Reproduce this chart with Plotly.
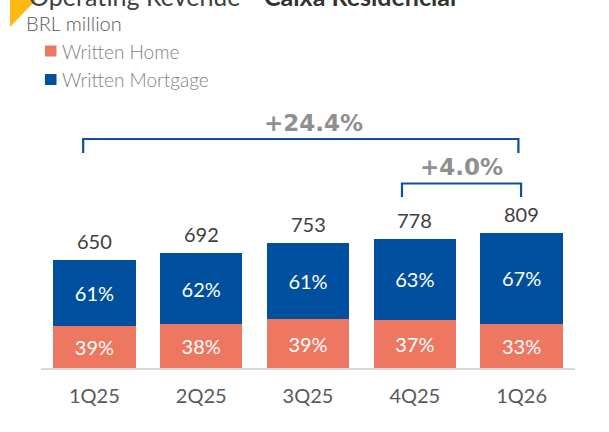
import plotly.graph_objects as go

# Quarterly operating revenue (BRL million) and product mix
quarters = ["1Q25", "2Q25", "3Q25", "4Q25", "1Q26"]
totals = [650, 692, 753, 778, 809]
home_pct = [39, 38, 39, 37, 33]
mortgage_pct = [61, 62, 61, 63, 67]

growth_yoy = "+24.4%"
growth_qoq = "+4.0%"

BLUE = "#00509F"
ORANGE = "#EE7762"
YELLOW = "#FDB913"
FONT = "Lato"

W, H = 609, 432
L, R, T, B = 41, 34, 0, 64
plot_h = H - T - B
plot_w = W - L - R
y_max = 2211


def py(p):
    """pixel row -> paper y"""
    return (H - B - p) / plot_h


def px(p):
    """pixel column -> paper x"""
    return (p - L) / plot_w


home_vals = [t * p / 100 for t, p in zip(totals, home_pct)]
mort_vals = [t * p / 100 for t, p in zip(totals, mortgage_pct)]

seg_font = dict(color="white", size=20, family=FONT)

fig = go.Figure()
fig.add_bar(
    x=quarters, y=home_vals, name="Written Home",
    marker=dict(color=ORANGE, line=dict(width=0)),
    text=[f"{p}%" for p in home_pct], textposition="inside",
    insidetextanchor="middle", textangle=0, textfont=seg_font,
)
fig.add_bar(
    x=quarters, y=mort_vals, name="Written Mortgage",
    marker=dict(color=BLUE, line=dict(width=0)),
    text=[f"{p}%" for p in mortgage_pct], textposition="inside",
    insidetextanchor="middle", textangle=0, textfont=seg_font,
)

annotations = []
# totals above each stack
for q, t in zip(quarters, totals):
    annotations.append(dict(
        x=q, y=t, xref="x", yref="y", text=str(t), showarrow=False,
        yanchor="bottom", yshift=5,
        font=dict(size=20, color="#404040", family=FONT),
    ))

# growth brackets
shapes = []


def bracket(x0, x1, ytop, ybot, label, xlab, ylab):
    shapes.append(dict(
        type="path", xref="x", yref="paper",
        path=f"M {x0},{py(ybot)} L {x0},{py(ytop)} L {x1},{py(ytop)} L {x1},{py(ybot)}",
        line=dict(color="#0B4EA2", width=2.2),
    ))
    annotations.append(dict(
        x=xlab, y=py(ylab), xref="x", yref="paper", text=f"<b>{label}</b>",
        showarrow=False, yanchor="middle",
        font=dict(size=23, color="#8F8F8F", family="DejaVu Sans"),
    ))


bracket(-0.105, 3.97, 139, 153, growth_yoy, 2.05, 123)
bracket(2.88, 3.995, 183.5, 197, growth_qoq, 3.44, 166.5)

# corner accent
shapes.append(dict(
    type="path", xref="paper", yref="paper",
    path=f"M {px(10)},{py(0)} L {px(36)},{py(0)} L {px(10)},{py(27)} Z",
    fillcolor=YELLOW, line=dict(width=0), layer="below",
))

# title (partly above the page edge)
annotations.append(dict(
    x=px(27), y=py(-4), xref="paper", yref="paper", xanchor="left", yanchor="middle",
    text="Operating Revenue", showarrow=False,
    font=dict(size=25, color="#404040", family=FONT),
))
annotations.append(dict(
    x=px(262), y=py(-4), xref="paper", yref="paper", xanchor="left", yanchor="middle",
    text="<b>Caixa Residencial</b>", showarrow=False,
    font=dict(size=25, color="#333333", family=FONT),
))
annotations.append(dict(
    x=px(24), y=py(23), xref="paper", yref="paper", xanchor="left", yanchor="middle",
    text="BRL million", showarrow=False,
    font=dict(size=20, color="#595959", family=FONT, weight=300),
))

# legend
for label, color, cy in [("Written Home", ORANGE, 51), ("Written Mortgage", BLUE, 79.5)]:
    shapes.append(dict(
        type="rect", xref="paper", yref="paper",
        x0=px(45), x1=px(56.5), y0=py(cy - 5.5), y1=py(cy + 5.5),
        fillcolor=color, line=dict(width=0),
    ))
    annotations.append(dict(
        x=px(60), y=py(cy), xref="paper", yref="paper", xanchor="left", yanchor="middle",
        text=label, showarrow=False,
        font=dict(size=19, color="#7F7F7F", family=FONT, weight=300),
    ))

fig.update_layout(
    width=W, height=H,
    margin=dict(l=L, r=R, t=T, b=B),
    barmode="stack", bargap=0.23,
    plot_bgcolor="white", paper_bgcolor="white",
    showlegend=False,
    shapes=shapes, annotations=annotations,
    xaxis=dict(
        range=[-0.5, 4.5], showgrid=False, showline=True, linecolor="#D9D9D9",
        linewidth=1.5, ticks="", ticklabelstandoff=9,
        tickfont=dict(size=20, color="#595959", family=FONT),
    ),
    yaxis=dict(range=[0, y_max], visible=False, showgrid=False),
)

fig.write_html("out.html")
